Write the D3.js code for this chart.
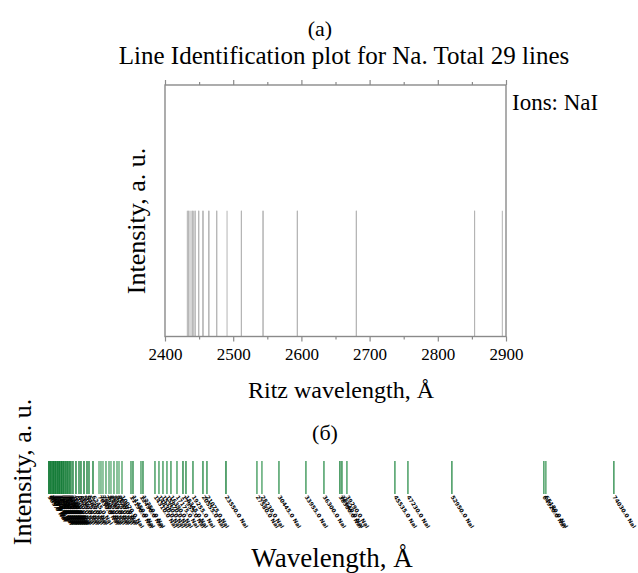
<!DOCTYPE html>
<html><head><meta charset="utf-8">
<script src="https://cdn.jsdelivr.net/npm/d3@7"></script>
<style>body{margin:0;background:#fff}</style>
</head><body><svg id="c" width="638" height="573"></svg>
<script>
// Panel (a): Na I lines, Ritz wavelength (Å)
const ritzWavelengthsA = [2432.7, 2433.9, 2434.7, 2436.7, 2439.6, 2440.1, 2441.5, 2444.0, 2444.3,
  2449.4, 2449.5, 2455.3, 2456.1, 2464.0, 2464.6, 2475.8, 2475.9, 2491.0, 2511.9, 2512.1,
  2543.7, 2543.8, 2594.0, 2594.1, 2680.5, 2680.6, 2853.9, 2854.0, 2894.6];
const relIntensityA = [1,1,1,1,1,1,1,1,1,1,1,1,1,1,1,1,1,1,1,1,1,1,1,1,1,1,1,1,1];
const majorTicksA = [2400, 2500, 2600, 2700, 2800, 2900];
const minorTicksA = [2450, 2550, 2650, 2750, 2850];

// Panel (б): line wavelengths and relative intensities
const wavelengthsB = [505, 640, 770, 905, 1050, 1160, 1310, 1420, 1575, 1690, 1830, 1940, 2090, 2200,
  2355, 2460, 2610, 2725, 2870, 2980, 3130, 3240,
  3380, 3640, 4030, 4425, 4680, 5075, 5465, 5725, 6245,
  7030, 7285, 7545, 7935, 8330, 8585, 8975, 9370, 9630, 10020,
  11190, 11450, 12490, 12750, 14310, 14830, 15350, 15870, 16390, 17175, 17955, 18345, 19255,
  20555, 21075, 23550, 27580, 28230, 30445, 33955, 36300, 38380, 38640, 39290,
  45535, 47230, 52950, 64920, 65180, 74030];
const intensityB = [1, 0.95, 1, 0.9, 1, 1, 0.95, 1, 0.9, 1, 0.95, 1, 0.85, 1,
  0.9, 0.95, 0.8, 0.9, 0.85, 0.9, 0.8, 0.85,
  0.8, 0.85, 0.8, 0.75, 0.8, 0.85, 0.8, 0.75, 0.8,
  0.4, 0.45, 0.4, 0.5, 0.45, 0.4, 0.5, 0.45, 0.4, 0.5,
  0.6, 0.7, 0.55, 0.7, 0.6, 0.55, 0.6, 0.55, 0.6, 0.55, 0.75, 0.7, 0.65,
  0.7, 0.65, 0.8, 0.55, 0.5, 0.6, 0.6, 0.6, 0.75, 0.7, 0.55,
  0.6, 0.6, 0.65, 0.6, 0.5, 0.65];

const svg = d3.select("#c");
const serif = "'Liberation Serif','Times New Roman',serif";

// ---------- Panel (a) ----------
const x = d3.scaleLinear().domain([2400, 2900]).range([165, 506]);
const y = d3.scaleLinear().domain([0, 2]).range([336.5, 85]);

svg.append("text").attr("x", 320).attr("y", 36).attr("text-anchor", "middle")
  .style("font-family", serif).style("font-size", "22px").text("(a)");
svg.append("text").attr("x", 344).attr("y", 64).attr("text-anchor", "middle")
  .style("font-family", serif).style("font-size", "25px")
  .text("Line Identification plot for Na. Total 29 lines");

const gA = svg.append("g");
gA.selectAll("line.na").data(ritzWavelengthsA).join("line").attr("class", "na")
  .attr("x1", d => x(d)).attr("x2", d => x(d))
  .attr("y1", y(0)).attr("y2", (d, i) => y(relIntensityA[i]))
  .attr("stroke", "#b4b4b4").attr("stroke-width", 1);

gA.append("rect").attr("x", x(2400)).attr("y", y(2))
  .attr("width", x(2900) - x(2400)).attr("height", y(0) - y(2))
  .attr("fill", "none").attr("stroke", "#8a8a8a").attr("stroke-width", 1.4);

function styleAxis(g) {
  g.select(".domain").remove();
  g.selectAll(".tick line").attr("stroke", "#8a8a8a").attr("stroke-width", 1.2);
  g.selectAll(".tick text").style("font-family", serif).style("font-size", "17px").attr("fill", "#000");
}
gA.append("g").attr("transform", `translate(0,${y(0)})`)
  .call(d3.axisBottom(x).tickValues(majorTicksA).tickSize(5).tickPadding(6).tickFormat(d3.format("d")))
  .call(styleAxis);
gA.append("g").attr("transform", `translate(0,${y(0)})`)
  .call(d3.axisBottom(x).tickValues(minorTicksA).tickSize(3).tickFormat(""))
  .call(styleAxis);
gA.append("g").attr("transform", `translate(0,${y(2)})`)
  .call(d3.axisTop(x).tickValues(majorTicksA).tickSize(5).tickFormat(""))
  .call(styleAxis);
gA.append("g").attr("transform", `translate(0,${y(2)})`)
  .call(d3.axisTop(x).tickValues(minorTicksA).tickSize(3).tickFormat(""))
  .call(styleAxis);

svg.append("text").attr("x", 512).attr("y", 110)
  .style("font-family", serif).style("font-size", "23px").text("Ions: NaI");
svg.append("text").attr("transform", "translate(145,221) rotate(-90)").attr("text-anchor", "middle")
  .style("font-family", serif).style("font-size", "26px").text("Intensity, a. u.");
svg.append("text").attr("x", 341).attr("y", 398).attr("text-anchor", "middle")
  .style("font-family", serif).style("font-size", "24px").text("Ritz wavelength, Å");

// ---------- Panel (б) ----------
const xB = d3.scaleLinear().domain([0, 76000]).range([45, 629]);
const yB = d3.scaleLinear().domain([0, 1]).range([494, 461]);
const colB = d3.scaleLinear().domain([0, 1]).range(["#b6e2bf", "#137a36"]);

svg.append("text").attr("x", 325).attr("y", 440).attr("text-anchor", "middle")
  .style("font-family", serif).style("font-size", "22px").text("(б)");

const gB = svg.append("g");
gB.selectAll("line.b").data(wavelengthsB).join("line").attr("class", "b")
  .attr("x1", d => xB(d)).attr("x2", d => xB(d))
  .attr("y1", yB(0)).attr("y2", yB(1))
  .attr("stroke", (d, i) => colB(intensityB[i])).attr("stroke-width", 1.6);

gB.selectAll("text.lab").data(wavelengthsB).join("text").attr("class", "lab")
  .attr("transform", d => `translate(${xB(d) - 1.5},497) rotate(57)`)
  .style("font-family", "'DejaVu Sans',sans-serif").style("font-size", "5.6px").style("font-weight", "bold")
  .attr("fill", "#000")
  .text(d => `${d3.format(".1f")(d)} NaI`);

svg.append("text").attr("transform", "translate(31,472) rotate(-90)").attr("text-anchor", "middle")
  .style("font-family", serif).style("font-size", "26px").text("Intensity, a. u.");
svg.append("text").attr("x", 332).attr("y", 567).attr("text-anchor", "middle")
  .style("font-family", serif).style("font-size", "27px").text("Wavelength, Å");
</script></body></html>
